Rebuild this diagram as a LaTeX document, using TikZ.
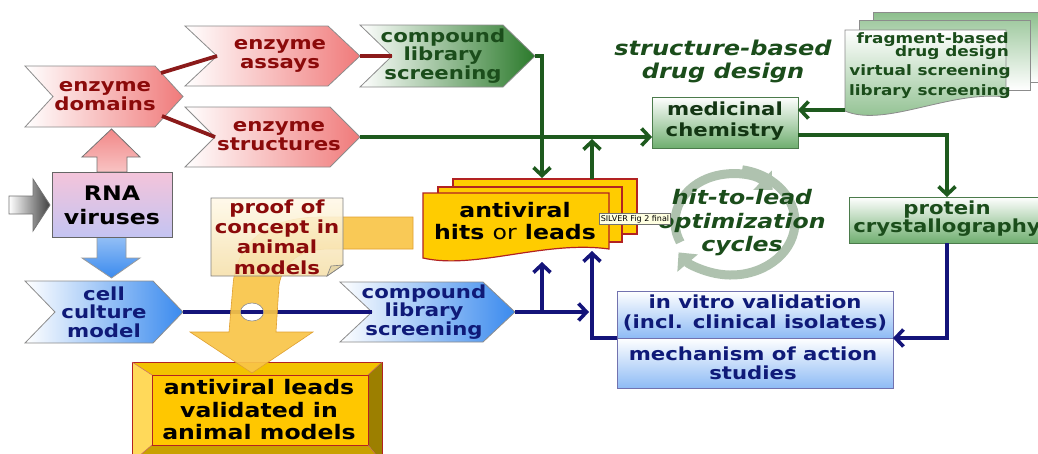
\documentclass[tikz,border=0pt]{standalone}
\usepackage{fontspec}
\setmainfont{DejaVu Sans}[FakeStretch=1.18]
\newfontfamily\tipfont{DejaVu Sans}
\usetikzlibrary{arrows.meta}
\definecolor{pinkR}{HTML}{F07A7A}
\definecolor{greenR}{HTML}{2B7A2B}
\definecolor{blueR}{HTML}{3A8AEE}
\definecolor{txtRed}{HTML}{8B0A0A}
\definecolor{txtGreen}{HTML}{1B4D1B}
\definecolor{txtBlue}{HTML}{0F1A78}
\definecolor{lnGreen}{HTML}{1E5A1E}
\definecolor{lnBlue}{HTML}{14147A}
\definecolor{lnRed}{HTML}{8B1A1A}
\definecolor{gold}{HTML}{FFCC00}
\definecolor{hitsBorder}{HTML}{B22222}
\definecolor{boxGreen}{HTML}{6FAE6F}
\definecolor{boxBlue}{HTML}{8EBBF5}
\definecolor{cycleGray}{HTML}{AFC2AF}
\definecolor{yel}{HTML}{F9C548}
\definecolor{yelEdge}{HTML}{E0A030}
\definecolor{rnaTop}{HTML}{F4C4DA}
\definecolor{rnaBot}{HTML}{C4C4F2}
\definecolor{bevTop}{HTML}{F2C200}
\definecolor{bevLeft}{HTML}{FFD95A}
\definecolor{bevRight}{HTML}{9C7F00}
\definecolor{bevBot}{HTML}{C9A100}
\definecolor{bevFace}{HTML}{FFC700}
\definecolor{pocTop}{HTML}{FFF9E8}
\definecolor{pocBot}{HTML}{F6E0AA}
\definecolor{pocFold}{HTML}{E6D6A8}
\definecolor{tipFill}{HTML}{FFFFE1}
\begin{document}
\begin{tikzpicture}[x=1pt,y=-1pt,
  chevbox/.style={draw=black!45, line width=0.8pt},
  lbl/.style={font=\bfseries\fontsize{18}{18.5}\selectfont, align=center, inner sep=0pt},
  bigl/.style={font=\bfseries\fontsize{20}{22.5}\selectfont, align=center, inner sep=0pt},
  itl/.style={font=\bfseries\itshape\fontsize{20}{23.5}\selectfont, align=center, inner sep=0pt, text=txtGreen},
  smallg/.style={font=\bfseries\fontsize{14.3}{13}\selectfont, inner sep=0pt, text=txtGreen, anchor=east},
  rline/.style={draw=lnRed, line width=3.8pt},
  gline/.style={draw=lnGreen, line width=3.6pt},
  bline/.style={draw=lnBlue, line width=3.6pt},
  barb/.style={-{Straight Barb[length=8pt,width=17pt]}},
  cyc/.style={draw=cycleGray, line width=9pt, -{Triangle[length=14pt,width=26pt]}}
]
\clip (0,0) rectangle (1038,453);
\fill[white] (0,0) rectangle (1038,453);

% ---------- hit-to-lead cycle arrows (background) ----------
\draw[cyc] (731,222) ++(-205:56 and 48) arc[start angle=-205, end angle=-42, x radius=56, y radius=48];
\draw[cyc] (731,222) ++(-80:64 and 53) arc[start angle=-80, end angle=145, x radius=64, y radius=53];

% ---------- chevrons ----------
\path[chevbox, left color=white, right color=pinkR]
  (25,66)--(155,66)--(183,96.5)--(155,127)--(25,127)--(53,96.5)--cycle;
\path[chevbox, left color=white, right color=pinkR]
  (185,26)--(328,26)--(360,56)--(328,86)--(185,86)--(217,56)--cycle;
\path[chevbox, left color=white, right color=pinkR]
  (185,107)--(330,107)--(360,137)--(330,167)--(185,167)--(215,137)--cycle;
\path[chevbox, left color=white, right color=greenR]
  (360,25)--(503,25)--(535,56)--(503,87)--(360,87)--(392,56)--cycle;
\path[chevbox, left color=white, right color=blueR]
  (25,281)--(153,281)--(183,312)--(153,343)--(25,343)--(55,312)--cycle;
\path[chevbox, left color=white, right color=blueR]
  (340,282)--(483,282)--(515,312)--(483,342)--(340,342)--(372,312)--cycle;

\coordinate (ed-up) at (161,73);
\coordinate (ed-dn) at (162,116);
\coordinate (ea-in) at (217,56);
\coordinate (ea-tip) at (360,56);
\coordinate (es-in) at (215,137);
\coordinate (es-tip) at (360,137);
\coordinate (cg-in) at (392,56);
\coordinate (cg-tip) at (535,56);
\coordinate (cc-tip) at (183,312);
\coordinate (cb-in) at (372,312);
\coordinate (cb-tip) at (515,312);

\node[lbl, text=txtRed] (ed) at (105,96) {enzyme\\domains};
\node[lbl, text=txtRed] (ea) at (280,56) {enzyme\\assays};
\node[lbl, text=txtRed] (es) at (279,136) {enzyme\\structures};
\node[lbl, text=txtGreen] (cg) at (443,56) {compound\\library\\screening};
\node[lbl, text=txtBlue] (cc) at (104,312) {cell\\culture\\model};
\node[lbl, text=txtBlue] (cb) at (424,312) {compound\\library\\screening};

% ---------- RNA viruses ----------
\path[draw=black!55, line width=0.8pt, left color=white, right color=black!75]
  (9,196)--(33,196)--(33,179)--(50,205)--(33,231)--(33,214)--(9,214)--cycle;
\path[draw=black!55, line width=0.8pt, top color=pinkR!90, bottom color=pinkR!45!white]
  (97,172)--(97,157)--(82,157)--(111.5,129)--(140,157)--(127,157)--(127,172)--cycle;
\path[draw=black!40, line width=0.8pt, top color=blueR!55!white, bottom color=blueR]
  (97,237)--(97,258)--(82,258)--(111.5,278)--(140,258)--(126,258)--(126,237)--cycle;
\path[draw=black!60, line width=0.8pt, top color=rnaTop, bottom color=rnaBot]
  (52,172) rectangle (172,237);
\node[bigl, font=\bfseries\fontsize{20}{24}\selectfont] (rna) at (112,205) {RNA\\viruses};

% ---------- red connectors ----------
\draw[rline] (ed-up) -- (ea-in);
\draw[rline] (ed-dn) -- (es-in);
\draw[rline] (ea-tip) -- (cg-in);

% ---------- medicinal chemistry ----------
\path[draw=lnGreen!80, line width=0.8pt, top color=white, bottom color=boxGreen] (652,97) rectangle (798,148);
\node[lbl, text=txtGreen!70!black, font=\bfseries\fontsize{18}{21}\selectfont] (mc) at (725,121) {medicinal\\chemistry};
\coordinate (mc-w) at (652,137);
\coordinate (mc-e1) at (798,110);
\coordinate (mc-e2) at (798,135);
\node[itl, font=\bfseries\itshape\fontsize{20.4}{23}\selectfont] (sbdd) at (723,61) {structure-based\\drug design};

% ---------- document stack ----------
\path[draw=black!45, line width=0.8pt, top color=boxGreen!80, bottom color=white]
  (873,12)--(1050,12)--(1050,82)--(873,82)--cycle;
\path[draw=black!45, line width=0.8pt, top color=boxGreen!65, bottom color=white]
  (859,20)--(1030,20)--(1030,90)--(859,90)--cycle;
\path[draw=black!45, line width=0.8pt, top color=white, bottom color=boxGreen!85]
  (845,30)--(1006,30)--(1006,97) .. controls (950,90) and (885,128) .. (845,111)--cycle;
\node[smallg] (d1) at (1009,40) {fragment-based};
\node[smallg] (d2) at (1009,53) {drug design};
\node[smallg] (d3) at (1011,72) {virtual screening};
\node[smallg] (d4) at (1011,92) {library screening};
\coordinate (doc-w) at (845,110);

% ---------- protein crystallography ----------
\path[draw=lnGreen!80, line width=0.8pt, top color=white, bottom color=boxGreen] (849,197) rectangle (1060,243);
\node[lbl, text=txtGreen, font=\bfseries\fontsize{18}{18}\selectfont] (pc) at (947,219) {protein\\crystallography};
\coordinate (pc-n) at (947,197);
\coordinate (pc-s) at (947,243);

% ---------- in vitro validation ----------
\path[draw=lnBlue!60, line width=0.8pt, top color=white, bottom color=boxBlue] (617,291) rectangle (893,338);
\path[draw=lnBlue!60, line width=0.8pt, top color=white, bottom color=boxBlue] (617,338) rectangle (893,388);
\node[lbl, text=txtBlue, font=\bfseries\fontsize{18}{20}\selectfont] (iv) at (755,313) {in vitro validation\\(incl. clinical isolates)};
\node[lbl, text=txtBlue, font=\bfseries\fontsize{18}{19}\selectfont] (moa) at (753,363) {mechanism of action\\studies};
\coordinate (iv-e) at (893,338);
\coordinate (iv-w) at (617,338);

% ---------- hits or leads ----------
\path[draw=hitsBorder, line width=1.2pt, fill=gold] (453,179) rectangle (637,234);
\path[draw=hitsBorder, line width=1.2pt, fill=gold] (438,187) rectangle (622,242);
\path[draw=hitsBorder, line width=1.2pt, fill=gold]
  (423,193)--(609,193)--(609,249) .. controls (545,240) and (475,270) .. (423,258)--cycle;
\node[bigl, font=\bfseries\fontsize{20}{22}\selectfont] (hits) at (515,221) {antiviral\\hits {\mdseries or} leads};
\coordinate (hits-top-a) at (542,178);
\coordinate (hits-top-b) at (592,179);
\coordinate (gl-j) at (592,139);
\coordinate (hits-bot-a) at (542,262);
\coordinate (hits-bot-b) at (592,251);
\coordinate (bl-j) at (589,312);
\coordinate (br) at (542,312);

\node[itl] (h2l) at (742,223) {hit-to-lead\\optimization\\cycles};

% ---------- green connectors ----------
\draw[gline, barb] (cg-tip) -| (hits-top-a);
\draw[gline, barb] (es-tip) -- (mc-w);
\draw[gline, barb] (hits-top-b) -- (gl-j);
\draw[gline, barb] (doc-w) -- (mc-e1);
\draw[gline, barb] (mc-e2) -| (pc-n);

% ---------- blue connectors ----------
\draw[bline, barb] (pc-s) |- (iv-e);
\draw[bline, barb] (iv-w) -| (hits-bot-b);
\draw[bline, barb] (cb-tip) -- (bl-j);
\draw[bline, barb] (br) -- (hits-bot-a);
\draw[bline] (cc-tip) -- (cb-in);

% ---------- antiviral leads bevel box ----------
\fill[bevFace] (152,375) rectangle (368,445);
\fill[bevTop] (132,362)--(382,362)--(368,375)--(152,375)--cycle;
\fill[bevLeft] (132,362)--(152,375)--(152,445)--(132,462)--cycle;
\fill[bevRight] (382,362)--(382,462)--(368,445)--(368,375)--cycle;
\fill[bevBot] (132,462)--(152,445)--(368,445)--(382,462)--cycle;
\draw[hitsBorder, line width=0.9pt] (132,362) rectangle (382,462);
\draw[hitsBorder, line width=0.9pt] (152,375) rectangle (368,445);
\draw[hitsBorder!70, line width=0.5pt] (132,362)--(152,375) (382,362)--(368,375) (132,462)--(152,445) (382,462)--(368,445);
\node[bigl] (avl) at (259,410) {antiviral leads\\validated in\\animal models};

% ---------- yellow curved arrow ----------
\path[fill=yel, fill opacity=0.92, draw=yelEdge, line width=0.6pt]
  (413,217) -- (320,217) .. controls (265,217) and (236,245) .. (233,285) -- (229,332)
  -- (190,332) -- (252,373) -- (313,332) -- (276,332) -- (279,285)
  .. controls (283,262) and (300,249) .. (330,249) -- (413,249) -- cycle;
\coordinate (hop) at (252,312);
\filldraw[fill=white, draw=black!45, line width=0.6pt] (hop) ellipse[x radius=11.5, y radius=9];
\draw[bline] ([xshift=-11pt]hop) -- ([xshift=11pt]hop);

% ---------- proof of concept ----------
\path[draw=black!50, line width=0.8pt, top color=pocTop, bottom color=pocBot, fill opacity=0.88]
  (211,198) -- (343,198) -- (343,265) -- (327,276) -- (211,276) -- cycle;
\path[draw=black!50, line width=0.6pt, fill=pocFold]
  (327,276) -- (331,266) -- (343,265) -- cycle;
\node[lbl, text=txtRed, font=\bfseries\fontsize{18}{20.3}\selectfont] (poc) at (277,237) {proof of\\concept in\\animal\\models};

% ---------- tooltip ----------
\node[draw=black!55, line width=0.5pt, fill=tipFill, font=\tipfont\fontsize{8}{9}\selectfont, inner xsep=1.5pt, inner ysep=1.5pt, anchor=west] (tooltip) at (599,219) {SILVER Fig 2 final};
\end{tikzpicture}
\end{document}
